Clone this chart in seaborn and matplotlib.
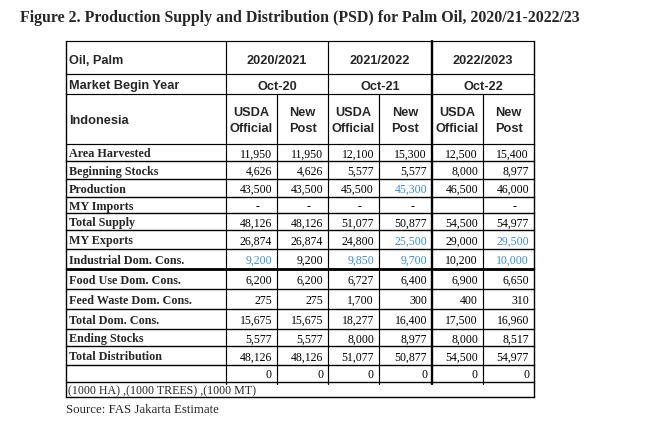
import matplotlib
matplotlib.use("Agg")
import matplotlib.pyplot as plt
import seaborn as sns

sns.set_theme(style="white")
plt.rcParams['font.family'] = ['Liberation Serif', 'DejaVu Serif']

# Table content
title = "Figure 2. Production Supply and Distribution (PSD) for Palm Oil, 2020/21-2022/23"
commodity = "Oil, Palm"
market_label = "Market Begin Year"
country = "Indonesia"
years = ["2020/2021", "2021/2022", "2022/2023"]
begin_months = ["Oct-20", "Oct-21", "Oct-22"]
sub_top = ["USDA", "New"] * 3
sub_bottom = ["Official", "Post"] * 3

row_labels = ["Area Harvested", "Beginning Stocks", "Production", "MY Imports",
              "Total Supply", "MY Exports", "Industrial Dom. Cons.",
              "Food Use Dom. Cons.", "Feed Waste Dom. Cons.", "Total Dom. Cons.",
              "Ending Stocks", "Total Distribution", ""]

values = [
    ["11,950", "11,950", "12,100", "15,300", "12,500", "15,400"],
    ["4,626", "4,626", "5,577", "5,577", "8,000", "8,977"],
    ["43,500", "43,500", "45,500", "45,300", "46,500", "46,000"],
    ["-", "-", "-", "-", "", "-"],
    ["48,126", "48,126", "51,077", "50,877", "54,500", "54,977"],
    ["26,874", "26,874", "24,800", "25,500", "29,000", "29,500"],
    ["9,200", "9,200", "9,850", "9,700", "10,200", "10,000"],
    ["6,200", "6,200", "6,727", "6,400", "6,900", "6,650"],
    ["275", "275", "1,700", "300", "400", "310"],
    ["15,675", "15,675", "18,277", "16,400", "17,500", "16,960"],
    ["5,577", "5,577", "8,000", "8,977", "8,000", "8,517"],
    ["48,126", "48,126", "51,077", "50,877", "54,500", "54,977"],
    ["0", "0", "0", "0", "0", "0"],
]

# cells written in blue (row, column)
blue_cells = [(2, 3), (5, 3), (5, 5), (6, 0), (6, 2), (6, 3), (6, 5)]

units_note = "(1000 HA) ,(1000 TREES) ,(1000 MT)"
source_note = "Source: FAS Jakarta Estimate"

# layout in pixels
col_x = [66, 226, 277, 328, 379, 432, 483, 534]
head_y = [42, 75, 95, 145]
body_y = [145, 162, 180, 198, 214, 231, 250, 270, 290, 310, 330, 347, 366, 383]
units_bottom = 398
blue = "#3a8edb"
sans = ['Liberation Sans', 'DejaVu Sans']
hsize = 9.2
vsize = 8.5

fig = plt.figure(figsize=(6.61, 4.31), dpi=100)
ax = fig.add_axes([0, 0, 1, 1])
ax.set_xlim(0, 661)
ax.set_ylim(431, 0)
ax.axis("off")

ax.text(20, 22, title, fontsize=11.4, fontweight="bold", va="baseline", ha="left")

# horizontal rules
for y in head_y:
    ax.plot([col_x[0], col_x[-1]], [y, y], color="black", lw=0.85, solid_capstyle="projecting")
for y in body_y[1:] + [units_bottom]:
    ax.plot([col_x[0], col_x[-1]], [y, y], color="black", lw=1.0, solid_capstyle="projecting")
ax.plot([col_x[0], col_x[-1]], [270, 270], color="black", lw=2.0, solid_capstyle="butt")

# vertical rules
for x in [col_x[0], col_x[-1]]:
    ax.plot([x, x], [head_y[0], units_bottom], color="black", lw=1.0)
for x in [col_x[1], col_x[3], col_x[5]]:
    ax.plot([x, x], [head_y[0], body_y[-1] + 2], color="black",
            lw=1.7 if x == col_x[5] else 0.85)
for x in [col_x[2], col_x[4], col_x[6]]:
    ax.plot([x, x], [head_y[2], body_y[-1] + 2], color="black", lw=0.85)

# header rows
head_base = [64, 89.5, 124]
head_labels = [commodity, market_label, country]
for i, lab in enumerate(head_labels):
    ax.text(col_x[0] + 3, head_base[i], lab, family=sans,
            fontsize=hsize, fontweight="bold", va="baseline", ha="left")
for k in range(3):
    xc = (col_x[1 + 2 * k] + col_x[3 + 2 * k]) / 2
    ax.text(xc, head_base[0], years[k], family=sans,
            fontsize=hsize, fontweight="bold", va="baseline", ha="center")
    ax.text(xc, head_base[1], begin_months[k], family=sans,
            fontsize=hsize, fontweight="bold", va="baseline", ha="center")
for j in range(6):
    xc = (col_x[1 + j] + col_x[2 + j]) / 2
    ax.text(xc, 115.7, sub_top[j], family=sans, fontsize=hsize,
            fontweight="bold", va="baseline", ha="center")
    ax.text(xc, 132.3, sub_bottom[j], family=sans, fontsize=hsize,
            fontweight="bold", va="baseline", ha="center")

# body rows
for i, lab in enumerate(row_labels):
    yb = (body_y[i] + body_y[i + 1]) / 2 + 4
    ax.text(col_x[0] + 3, yb, lab, fontsize=8.7, fontweight="bold",
            va="baseline", ha="left")
    for j, v in enumerate(values[i]):
        color = blue if (i, j) in blue_cells else "black"
        if v == "-":
            ax.text(col_x[j + 2] - 18, yb, v, fontsize=vsize, color=color,
                    va="baseline", ha="right")
        else:
            ax.text(col_x[j + 2] - 5, yb, v, fontsize=vsize, color=color,
                    va="baseline", ha="right")

ax.text(col_x[0] + 2, (body_y[-1] + units_bottom) / 2 + 4, units_note,
        fontsize=8.6, va="baseline", ha="left")
ax.text(col_x[0], 413, source_note, fontsize=9.3, va="baseline", ha="left")

fig.savefig("out.png", dpi=100)
